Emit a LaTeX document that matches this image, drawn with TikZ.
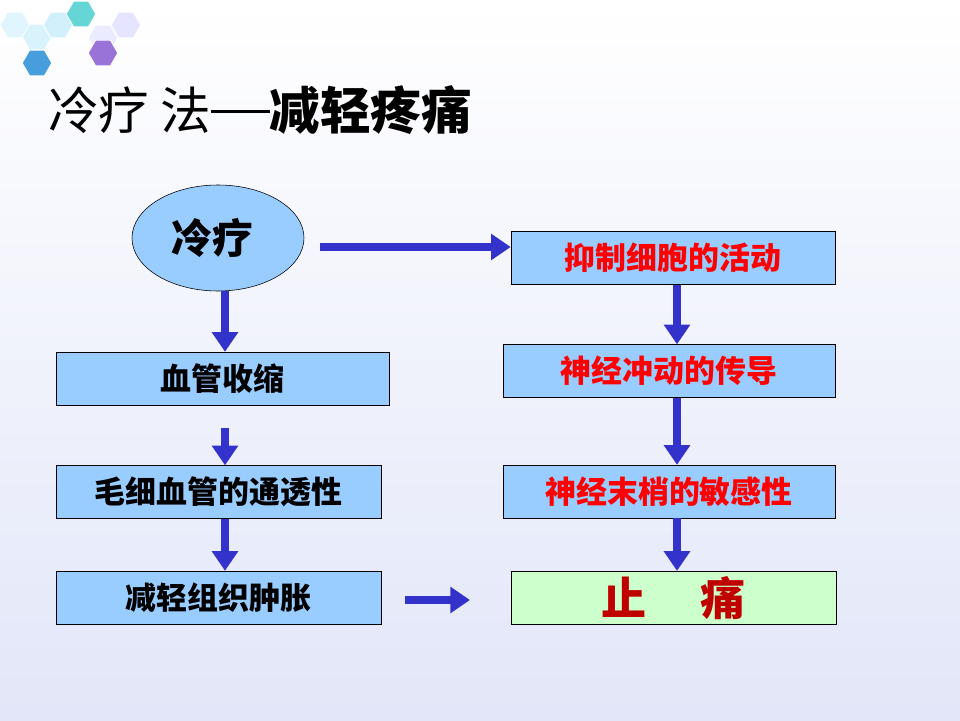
\documentclass[tikz,border=0pt]{standalone}
\usepackage{fontspec}
\newfontfamily\cjk{Noto Sans CJK SC}
\usetikzlibrary{arrows.meta,shapes.geometric}

\definecolor{boxblue}{RGB}{153,204,255}
\definecolor{boxgreen}{RGB}{204,255,204}
\definecolor{arrowblue}{RGB}{51,51,204}
\definecolor{darkred}{RGB}{192,0,0}
\definecolor{bglav}{RGB}{226,230,248}

\begin{document}
\begin{tikzpicture}[
    box/.style={draw=black,fill=boxblue,minimum width=8.2cm,minimum height=1.32cm,
      inner sep=0pt,font=\cjk\bfseries\fontsize{22}{24}\selectfont},
    redtext/.style={text=red},
    flow/.style={draw=arrowblue,line width=5pt,-{Triangle[length=14pt,width=18pt]}},
    hexa/.style={draw=white,line width=0.6pt}
  ]
  \useasboundingbox (0,0) rectangle (24,18);
  \shade[top color=white,bottom color=bglav] (0,0) rectangle (24,18);
  %\draw[step=1cm,gray,very thin] (0,0) grid (24,18);

  %hexagons
  \foreach \cx/\cy/\col in {0.375/17.375/cyan!12, 0.925/17.075/cyan!15,
      1.45/17.375/cyan!18, 2.575/17.05/blue!8, 3.15/17.375/blue!10}{
    \fill[hexa,fill=\col] (\cx,\cy) +(0:0.37) -- +(60:0.37) -- +(120:0.37)
      -- +(180:0.37) -- +(240:0.37) -- +(300:0.37) -- cycle;
  }
  \fill[hexa,fill=teal!55!cyan!60] (2.025,17.65) +(0:0.37) -- +(60:0.37) -- +(120:0.37)
    -- +(180:0.37) -- +(240:0.37) -- +(300:0.37) -- cycle;
  \fill[hexa,fill=blue!45!violet!55] (2.575,16.675) +(0:0.37) -- +(60:0.37) -- +(120:0.37)
    -- +(180:0.37) -- +(240:0.37) -- +(300:0.37) -- cycle;
  \fill[hexa,fill=cyan!70!blue!75] (0.925,16.425) +(0:0.37) -- +(60:0.37) -- +(120:0.37)
    -- +(180:0.37) -- +(240:0.37) -- +(300:0.37) -- cycle;

  %title
  \node[draw=none,anchor=west,inner sep=0pt] (title) at (1.2,15.25)
    {\cjk\fontsize{36}{40}\selectfont 冷疗 法\rule[0.33em]{1.15em}{0.06em}\textbf{减轻疼痛}};

  %left column
  \node[draw=black,fill=boxblue,ellipse,minimum width=4.3cm,minimum height=2.65cm,
    inner sep=0pt] (cold) at (5.45,12.05)
    {\cjk\bfseries\fontsize{29}{32}\selectfont\hspace{-0.3cm}冷疗};
  \node[box,minimum width=8.325cm] (vaso) at (5.5625,8.5375) {血管收缩};
  \node[box,minimum width=8.125cm] (perm) at (5.4625,5.7) {毛细血管的通透性};
  \node[box,minimum width=8.125cm] (swell) at (5.4625,3.0625) {减轻组织肿胀};

  %right column
  \node[box,redtext,minimum width=8.1cm] (inhib) at (16.825,11.55) {抑制细胞的活动};
  \node[box,redtext,minimum width=8.3cm] (nerve) at (16.725,8.725) {神经冲动的传导};
  \node[box,redtext,minimum width=8.3cm] (sens) at (16.725,5.7125) {神经末梢的敏感性};
  \node[box,fill=boxgreen,text=darkred,minimum width=8.125cm]
    (relief) at (16.84,3.06) {\fontsize{32}{34}\selectfont 止\hspace{1.2em}痛};

  %arrows
  \coordinate (lx) at (5.625,0);
  \coordinate (rx) at (16.925,0);
  \coordinate (a1) at (8.0,11.825);
  \coordinate (b1) at (10.125,3.0);
  \coordinate (b2) at (11.75,3.0);

  \draw[flow] (cold.south -| lx) -- (vaso.north -| lx);
  \draw[flow] ([yshift=-0.575cm]vaso.south -| lx) -- (perm.north -| lx);
  \draw[flow] (perm.south -| lx) -- (swell.north -| lx);

  \draw[flow] (a1) -- (inhib.west |- a1);
  \draw[flow] (inhib.south -| rx) -- (nerve.north -| rx);
  \draw[flow] (nerve.south -| rx) -- (sens.north -| rx);
  \draw[flow] (sens.south -| rx) -- (relief.north -| rx);

  \draw[flow] (b1) -- (b2);

\end{tikzpicture}
\end{document}
